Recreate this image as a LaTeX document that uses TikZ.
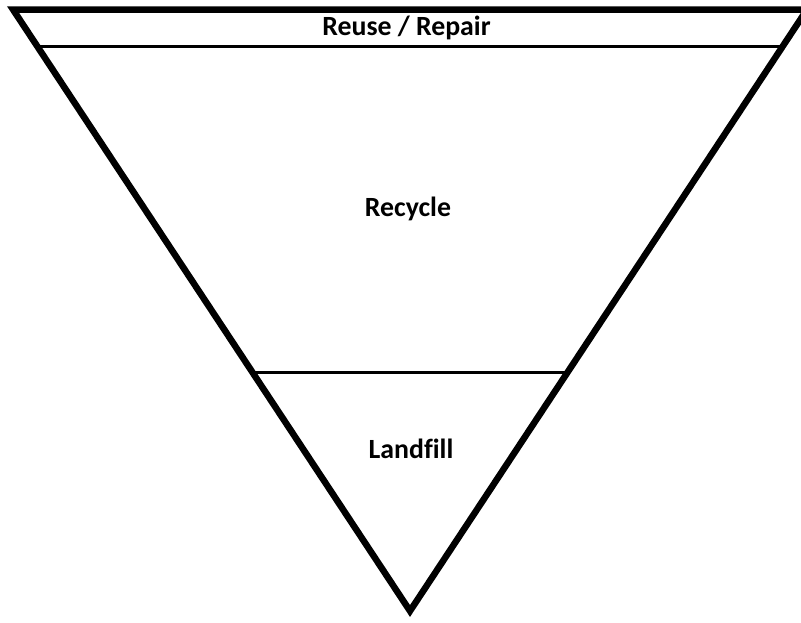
\documentclass[tikz,border=0pt]{standalone}
\usepackage{fontspec}
\setmainfont{Carlito}[Ligatures=NoCommon]
\usetikzlibrary{calc}
\begin{document}
\begin{tikzpicture}[x=1pt,y=-1pt,
  outline/.style={line width=6.5pt,line join=miter,miter limit=10},
  divider/.style={line width=3pt},
  label/.style={anchor=base,inner sep=0pt,font=\fontsize{27.8}{32}\selectfont\bfseries}]
\useasboundingbox (0,0) rectangle (801,622);
\clip (0,0) rectangle (801,622);
\coordinate (L) at (13,9.5);
\coordinate (R) at (807,9.5);
\coordinate (B) at (410,611);
\draw[outline] (L) -- (R) -- (B) -- cycle;
\coordinate (m1) at ($(L)!0.0607!(B)$);
\coordinate (m2) at ($(R)!0.0607!(B)$);
\coordinate (n1) at ($(L)!0.6043!(B)$);
\coordinate (n2) at ($(R)!0.6043!(B)$);
\draw[divider] (m1) -- (m2);
\draw[divider] (n1) -- (n2);
\node[label] (reuse) at (406.5,35) {Reuse / Repair};
\node[label] (recycle) at (408,216.5) {Recycle};
\node[label] (landfill) at (411,458) {Landfill};
\end{tikzpicture}
\end{document}
